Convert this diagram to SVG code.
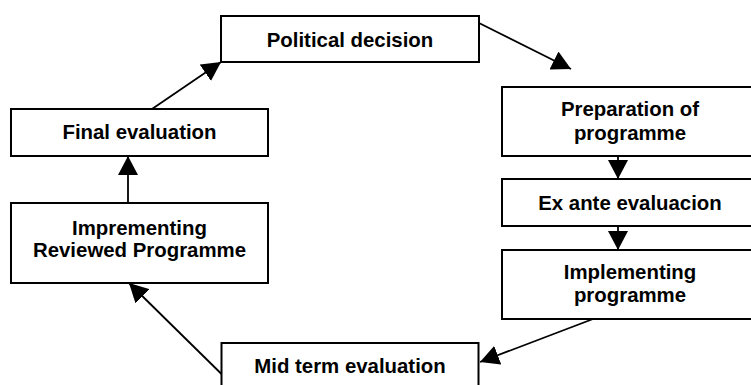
<svg xmlns="http://www.w3.org/2000/svg" width="751" height="385" viewBox="0 0 751 385">
<style>
.box{fill:#fff;stroke:#000;stroke-width:2}
.t{font-family:"Liberation Sans",Arial,sans-serif;font-weight:bold;font-size:20.4px;fill:#000;text-anchor:middle}
.c{stroke:#000;stroke-width:1.8;fill:none;marker-end:url(#ah)}
</style>
<defs>
<marker id="ah" viewBox="0 0 19 20" refX="19" refY="10" markerWidth="19" markerHeight="20" markerUnits="userSpaceOnUse" orient="auto">
<path d="M0,0 L19,10 L0,20 z" fill="#000"/>
</marker>
</defs>
<rect width="751" height="385" fill="#fff"/>
<g id="political">
<rect class="box" x="221" y="16" width="258" height="46"/>
<text class="t" x="350" y="46.5">Political decision</text>
</g>
<g id="preparation">
<rect class="box" x="502" y="87" width="256" height="69"/>
<text class="t" x="630" y="116">Preparation of</text>
<text class="t" x="630" y="139.5">programme</text>
</g>
<g id="exante">
<rect class="box" x="502" y="179" width="256" height="47"/>
<text class="t" x="630" y="210">Ex ante evaluacion</text>
</g>
<g id="implementing">
<rect class="box" x="502" y="250" width="256" height="69"/>
<text class="t" x="630" y="279">Implementing</text>
<text class="t" x="630" y="302">programme</text>
</g>
<g id="midterm">
<rect class="box" x="221.5" y="343" width="257" height="50"/>
<text class="t" x="350" y="372.5">Mid term evaluation</text>
</g>
<g id="reviewed">
<rect class="box" x="11" y="203" width="257" height="80"/>
<text class="t" x="139.5" y="234.5">Imprementing</text>
<text class="t" x="139.5" y="257">Reviewed Programme</text>
</g>
<g id="final">
<rect class="box" x="11" y="109" width="257" height="47"/>
<text class="t" x="139.5" y="139.3">Final evaluation</text>
</g>
<g id="connectors">
<line class="c" x1="152" y1="109" x2="221" y2="62"/>
<line class="c" x1="479" y1="23" x2="571" y2="69"/>
<line class="c" x1="618" y1="156" x2="618" y2="179"/>
<line class="c" x1="618" y1="226" x2="618" y2="250"/>
<line class="c" x1="593" y1="319" x2="480" y2="362"/>
<line class="c" x1="221.5" y1="374" x2="129" y2="283"/>
<line class="c" x1="128" y1="203" x2="128" y2="156"/>
</g>
</svg>
